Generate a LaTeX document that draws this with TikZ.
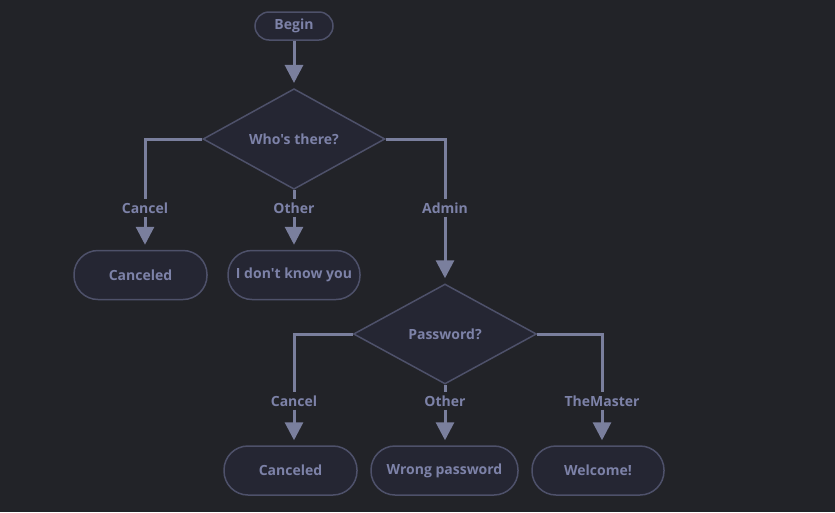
\documentclass[tikz,border=0pt]{standalone}
\usepackage{fontspec}
\setmainfont{Open Sans}[Ligatures=TeXOff]
\usetikzlibrary{shapes.geometric,arrows.meta}
\definecolor{bg}{RGB}{34,35,40}
\definecolor{nodefill}{RGB}{37,38,51}
\definecolor{nodeline}{RGB}{78,81,106}
\definecolor{txt}{RGB}{125,130,168}
\definecolor{arr}{RGB}{122,127,157}
\begin{document}
\begin{tikzpicture}[x=1pt,y=-1pt,
  every node/.style={font=\fontsize{14}{16}\selectfont\bfseries, text=txt},
  pill/.style={draw=nodeline, fill=nodefill, line width=1.5pt, rounded corners=24pt,
    minimum width=133pt, minimum height=49pt, inner sep=0pt},
  startbox/.style={draw=nodeline, fill=nodefill, line width=1.5pt, rounded corners=14pt,
    minimum width=78pt, minimum height=28pt, inner sep=0pt},
  decision/.style={diamond, draw=nodeline, fill=nodefill, line width=1.5pt,
    minimum width=182pt, minimum height=100pt, inner sep=0pt},
  lbl/.style={fill=bg, inner sep=3pt},
  edge/.style={draw=arr, line width=3pt},
  arrowedge/.style={edge, -{Triangle[length=18pt,width=18pt]}, shorten >=5pt}
]
\useasboundingbox[fill=bg] (0,0) rectangle (835,512);

\node[startbox] (begin) at (294,26) {Begin};
\node[decision] (d1) at (294,139) {Who's there?};
\node[pill] (c1) at (140.5,275) {Canceled};
\node[pill, minimum width=132pt] (idk) at (294,275) {I don't know you};
\node[decision, minimum width=183pt] (d2) at (445,334) {Password?};
\node[pill] (c2) at (290.5,470.5) {Canceled};
\node[pill, minimum width=147pt] (wp) at (444.5,470.5) {Wrong password};
\node[pill, minimum width=132pt] (wel) at (598,470.5) {Welcome!};

\node[lbl] (l1) at (145,208) {Cancel};
\node[lbl] (l2) at (294,208) {Other};
\node[lbl] (l3) at (445,208) {Admin};
\node[lbl] (l4) at (294,401) {Cancel};
\node[lbl] (l5) at (445,401) {Other};
\node[lbl] (l6) at (602,401) {TheMaster};

\draw[arrowedge] (begin.south) -- (d1.north);

\draw[edge] (d1.west) -| (l1.north);
\draw[arrowedge] (l1.south) -- (l1.south |- c1.north);
\draw[edge] (d1.south) -- (l2.north);
\draw[arrowedge] (l2.south) -- (idk.north);
\draw[edge] (d1.east) -| (l3.north);
\draw[arrowedge] (l3.south) -- (d2.north);

\draw[edge] (d2.west) -| (l4.north);
\draw[arrowedge] (l4.south) -- (l4.south |- c2.north);
\draw[edge] (d2.south) -- (l5.north);
\draw[arrowedge] (l5.south) -- (l5.south |- wp.north);
\draw[edge] (d2.east) -| (l6.north);
\draw[arrowedge] (l6.south) -- (l6.south |- wel.north);
\end{tikzpicture}
\end{document}
